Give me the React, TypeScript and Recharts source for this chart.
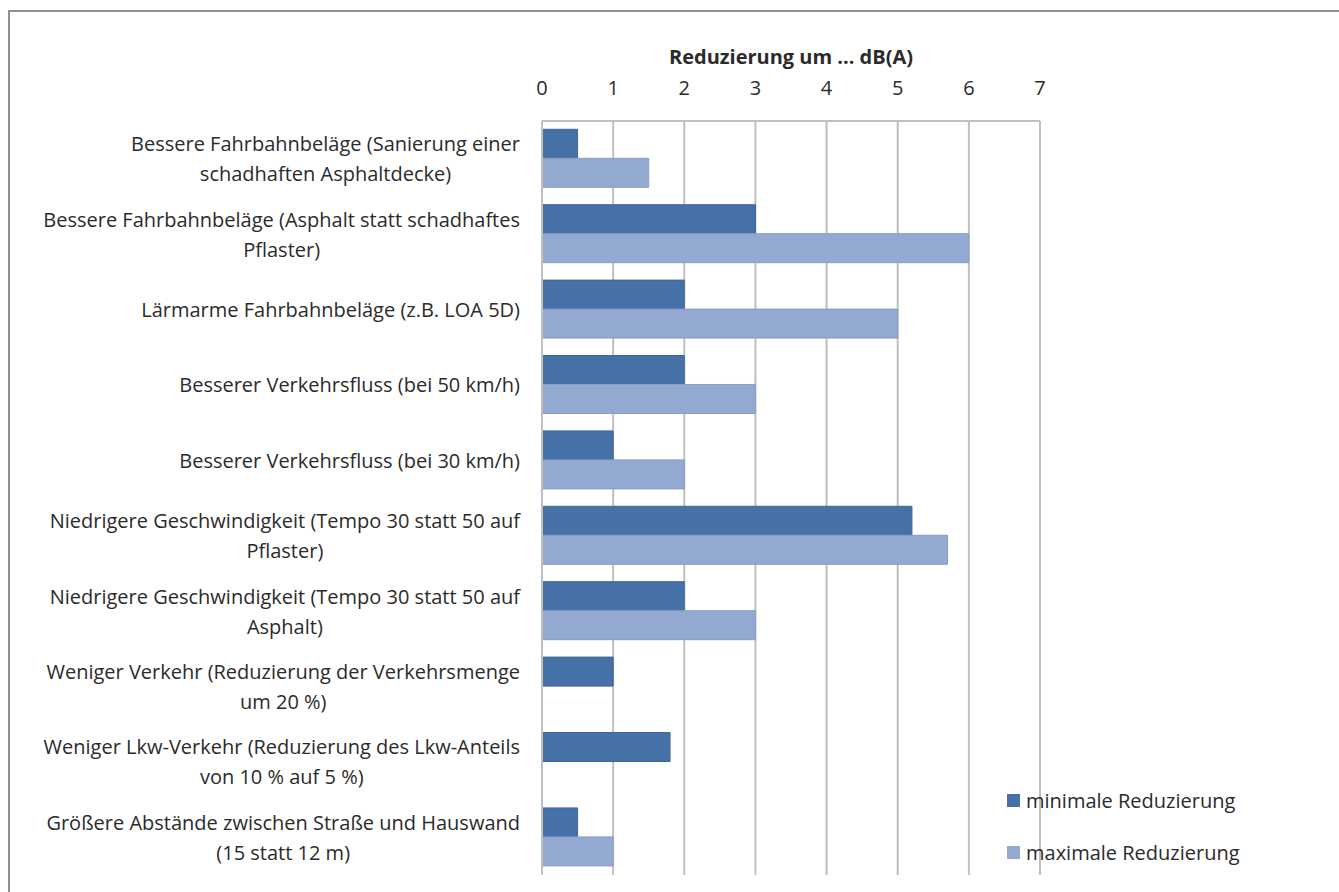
import React from 'react'
import { BarChart, Bar, XAxis, YAxis, CartesianGrid, Legend } from 'recharts'

const categories = [
  'Bessere Fahrbahnbeläge (Sanierung einer\nschadhaften Asphaltdecke)',
  'Bessere Fahrbahnbeläge (Asphalt statt schadhaftes\nPflaster)',
  'Lärmarme Fahrbahnbeläge (z.B. LOA 5D)',
  'Besserer Verkehrsfluss (bei 50 km/h)',
  'Besserer Verkehrsfluss (bei 30 km/h)',
  'Niedrigere Geschwindigkeit (Tempo 30 statt 50 auf\nPflaster)',
  'Niedrigere Geschwindigkeit (Tempo 30 statt 50 auf\nAsphalt)',
  'Weniger Verkehr (Reduzierung der Verkehrsmenge\num 20 %)',
  'Weniger Lkw-Verkehr (Reduzierung des Lkw-Anteils\nvon 10 % auf 5 %)',
  'Größere Abstände zwischen Straße und Hauswand\n(15 statt 12 m)',
]
const minValues = [0.5, 3, 2, 2, 1, 5.2, 2, 1, 1.8, 0.5]
const maxValues: (number | null)[] = [1.5, 6, 5, 3, 2, 5.7, 3, null, null, 1]
const xTicks = [0, 1, 2, 3, 4, 5, 6, 7]
const axisTitle = 'Reduzierung um ... dB(A)'
const seriesNames = { min: 'minimale Reduzierung', max: 'maximale Reduzierung' }

const data = categories.map((name, i) => ({ name, min: minValues[i], max: maxValues[i] }))

const FONT_FAMILY = '"Open Sans", sans-serif'
const FONT_SIZE = 20
const TEXT = '#2b2b2b'
const GRID = '#bfbfbf'
const DARK = '#4571a7'
const LIGHT = '#94a9d1'

let ctx: CanvasRenderingContext2D | null = null
function measure(t: string) {
  if (!ctx) ctx = document.createElement('canvas').getContext('2d')
  if (!ctx) return t.length * 10
  ctx.font = `${FONT_SIZE}px ${FONT_FAMILY}`
  return ctx.measureText(t).width
}

// multi-line category label: lines centred on each other, block right-aligned
function CategoryTick(props: any) {
  const { x, y, payload } = props
  const lines: string[] = String(payload.value).split('\n')
  const w = Math.max(...lines.map(measure))
  const cx = x - w / 2
  const lh = 30
  const start = y - ((lines.length - 1) * lh) / 2
  return (
    <g>
      {lines.map((l, i) => (
        <text
          key={i}
          x={cx}
          y={start + i * lh}
          textAnchor="middle"
          dominantBaseline="central"
          fill={TEXT}
          fontSize={FONT_SIZE}
          fontFamily={FONT_FAMILY}
        >
          {l}
        </text>
      ))}
    </g>
  )
}

function LegendContent() {
  const items = [
    { label: seriesNames.min, color: DARK },
    { label: seriesNames.max, color: LIGHT },
  ]
  return (
    <div>
      {items.map((it) => (
        <div
          key={it.label}
          style={{
            display: 'flex',
            alignItems: 'center',
            height: 52,
            fontFamily: FONT_FAMILY,
            fontSize: FONT_SIZE,
            color: TEXT,
            whiteSpace: 'nowrap',
          }}
        >
          <span style={{ display: 'inline-block', width: 13, height: 13, background: it.color, marginRight: 6 }} />
          {it.label}
        </div>
      ))}
    </div>
  )
}

export default function App() {
  return (
    <>
      <style>{'html,body{overflow:hidden} body{width:1400px;height:1000px} #root{width:1400px;height:1000px}'}</style>
      <div
        style={{
          position: 'relative',
          top: 2,
          width: 1380,
          height: 960,
          borderTop: '2px solid #8f8f8f',
          borderLeft: '2px solid #8f8f8f',
          overflow: 'hidden',
        }}
      >
        <BarChart
          width={1329}
          height={880}
          data={data}
          layout="vertical"
          margin={{ top: 69, right: 49, bottom: 17, left: 0 }}
          barCategoryGap="11%"
          barGap={0}
        >
          <CartesianGrid horizontal={false} stroke={GRID} strokeWidth={2} />
          <XAxis
            type="number"
            orientation="top"
            domain={[0, 7]}
            ticks={xTicks}
            interval={0}
            height={40}
            axisLine={{ stroke: GRID, strokeWidth: 2 }}
            tickLine={false}
            tickMargin={20}
            tick={{ fill: TEXT, fontSize: FONT_SIZE, fontFamily: FONT_FAMILY }}
            label={{
              value: axisTitle,
              position: 'top',
              offset: 17,
              style: { fill: TEXT, fontSize: FONT_SIZE, fontWeight: 'bold', fontFamily: FONT_FAMILY },
            }}
          />
          <YAxis
            type="category"
            dataKey="name"
            width={532}
            interval={0}
            axisLine={{ stroke: GRID, strokeWidth: 2 }}
            tickLine={false}
            tickMargin={16}
            tick={<CategoryTick />}
          />
          <Legend
            layout="vertical"
            align="right"
            verticalAlign="bottom"
            content={<LegendContent />}
            wrapperStyle={{ position: 'absolute', left: 997, top: 762, width: 250, right: 'auto', bottom: 'auto' }}
          />
          <Bar dataKey="min" name={seriesNames.min} fill={DARK} stroke="#3f669a" strokeWidth={1} isAnimationActive={false} />
          <Bar dataKey="max" name={seriesNames.max} fill={LIGHT} stroke="#889dc6" strokeWidth={1} isAnimationActive={false} />
        </BarChart>
      </div>
    </>
  )
}
